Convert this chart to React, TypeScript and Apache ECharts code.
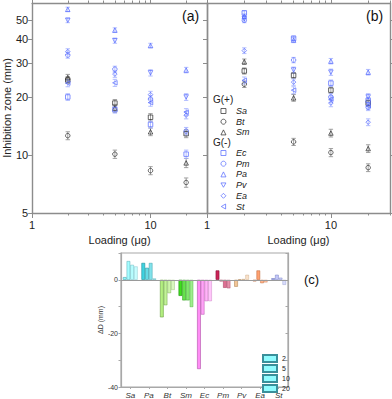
import React, { useEffect, useRef } from 'react';
import * as echarts from 'echarts';

// ---------- data ----------
const LOADINGS = [2, 5, 10, 20];
const X_MINOR = [2, 3, 4, 5, 6, 7, 8, 9, 20, 30];
const X_MAJOR = [1, 10];
const Y_TICKS = [5, 10, 20, 30, 40, 50];
const SPECIES = ['Sa', 'Bt', 'Sm', 'Ec', 'Pm', 'Pa', 'Pv', 'Ea', 'St'];

// Panel (a) inhibition zone (mm)
const A_Sa = [24.5, 18.6, 15.7, 12.9];
const A_Bt = [12.6, 10.1, 8.3, 7.2];
const A_Sm = [25.2, 17.5, 13.2, 9.1];
const A_Ec = [20.0, 17.2, 14.4, 10.1];
const A_Pm = [33.0, 27.9, 19.5, 13.3];
const A_Pa = [57.0, 44.5, 37.0, 27.6];
const A_Pv = [50.0, 39.2, 26.7, 20.0];
const A_Ea = [34.4, 26.3, 20.6, 16.1];
const A_St = [23.6, 23.7, 18.7, 16.7];
// Panel (a) error
const AE_Sa = [1.0, 0.8, 0.7, 0.6];
const AE_Bt = [0.6, 0.5, 0.4, 0.4];
const AE_Sm = [1.0, 0.8, 0.6, 0.5];
const AE_Ec = [0.8, 0.7, 0.6, 0.5];
const AE_Pm = [1.2, 1.0, 0.8, 0.6];
const AE_Pa = [1.5, 1.2, 1.0, 0.9];
const AE_Pv = [1.4, 1.2, 1.0, 0.8];
const AE_Ea = [1.2, 1.0, 0.8, 0.7];
const AE_St = [1.0, 1.0, 0.8, 0.7];

// Panel (b) inhibition zone (mm)
const B_Sa = [27.3, 25.9, 21.7, 18.6];
const B_Bt = [23.3, 11.7, 10.3, 8.6];
const B_Sm = [30.5, 19.8, 13.0, 10.8];
const B_Ec = [54.6, 40.3, 23.6, 19.2];
const B_Pm = [50.0, 31.1, 20.0, 17.7];
const B_Pa = [52.5, 39.5, 30.7, 26.9];
const B_Pv = [51.0, 27.6, 26.9, 20.0];
const B_Ea = [34.8, 23.9, 18.6, 14.8];
const B_St = [24.4, 21.7, 19.5, 18.0];
// Panel (b) error
const BE_Sa = [1.0, 0.9, 0.8, 0.7];
const BE_Bt = [0.9, 0.5, 0.5, 0.4];
const BE_Sm = [1.0, 0.8, 0.6, 0.5];
const BE_Ec = [1.5, 1.2, 0.9, 0.7];
const BE_Pm = [1.4, 1.0, 0.8, 0.7];
const BE_Pa = [1.5, 1.2, 1.0, 0.9];
const BE_Pv = [1.5, 1.0, 1.0, 0.8];
const BE_Ea = [1.2, 0.9, 0.8, 0.6];
const BE_St = [1.0, 0.9, 0.8, 0.7];

// Panel (c) ΔD (mm)
const CATS = ['Sa', 'Pa', 'Bt', 'Sm', 'Ec', 'Pm', 'Pv', 'Ea', 'St'];
const D_2 = [1.0, 6.3, -14.0, -6.0, -33.3, 3.5, -2.6, -0.6, 0.6];
const D_5 = [7.0, 4.5, -9.5, -7.7, -13.0, -0.6, 0.2, 3.5, 1.9];
const D_10 = [5.6, 6.3, -5.0, -7.7, -8.0, -3.0, 0.3, -1.3, 0.8];
const D_20 = [5.0, 0.5, -3.8, -10.2, -8.0, -3.2, 1.9, -1.0, -1.9];
const D_NAMES = ['2', '5', '10', '20'];

// ---------- styles ----------
const FONT = '"Liberation Sans", Arial, sans-serif';
const FRAME = '#8c8c8c';
const BLK = '#2a2a2a';
const BLU = '#5468ff';
const BLK_ERR = '#8a8a8a';
const BLU_ERR = '#9fadff';
const TRI_DOWN = 'path://M0,0 L10,0 L5,8.66 Z';
const TRI_LEFT = 'path://M0,5 L8.66,0 L8.66,10 Z';
const STYLE: Record<string, { symbol: string; rotate: number; color: string; err: string; icon?: string }> = {
  Sa: { symbol: 'rect', rotate: 0, color: BLK, err: BLK_ERR },
  Bt: { symbol: 'circle', rotate: 0, color: BLK, err: BLK_ERR },
  Sm: { symbol: 'triangle', rotate: 0, color: BLK, err: BLK_ERR },
  Ec: { symbol: 'rect', rotate: 0, color: BLU, err: BLU_ERR },
  Pm: { symbol: 'circle', rotate: 0, color: BLU, err: BLU_ERR },
  Pa: { symbol: 'triangle', rotate: 0, color: BLU, err: BLU_ERR },
  Pv: { symbol: 'triangle', rotate: 180, color: BLU, err: BLU_ERR, icon: TRI_DOWN },
  Ea: { symbol: 'diamond', rotate: 0, color: BLU, err: BLU_ERR },
  St: { symbol: 'triangle', rotate: 90, color: BLU, err: BLU_ERR, icon: TRI_LEFT },
};
const CAT_COLORS = ['#8ffcff', '#3fd3e0', '#b3ef80', '#3fdc1e', '#ff8cf5', '#cc2458', '#f3c596', '#ff8a4c', '#b4baf8'];
const CAT_BORDERS = ['#4fa6b0', '#1d8e99', '#6aa040', '#1f8f0d', '#b04fa8', '#8a1038', '#b48a5c', '#b85a28', '#7078c0'];
const LOAD_OPACITY = [1, 0.8, 0.65, 0.5];

const lg = (v: number) => Math.log10(v);
const Y_MIN = lg(5);
const Y_MAX = lg(61.5);
const X_MAX = lg(30);

function makeErr(color: string) {
  return (params: any, api: any) => {
    const x = api.value(0);
    const p1 = api.coord([x, api.value(1)]);
    const p2 = api.coord([x, api.value(2)]);
    const w = 2.2;
    const st = { stroke: color, lineWidth: 0.8 };
    return {
      type: 'group',
      children: [
        { type: 'line', shape: { x1: p1[0], y1: p1[1], x2: p2[0], y2: p2[1] }, style: st },
        { type: 'line', shape: { x1: p1[0] - w, y1: p1[1], x2: p1[0] + w, y2: p1[1] }, style: st },
        { type: 'line', shape: { x1: p2[0] - w, y1: p2[1], x2: p2[0] + w, y2: p2[1] }, style: st },
      ],
    };
  };
}

function panelSeries(g: number, vals: number[][], errs: number[][]) {
  const out: any[] = [];
  SPECIES.forEach((sp, k) => {
    const st = STYLE[sp];
    out.push({
      type: 'custom',
      name: `err${g}_${sp}`,
      xAxisIndex: 4 * g,
      yAxisIndex: 2 * g,
      renderItem: makeErr(st.err),
      encode: { x: 0, y: [1, 2] },
      data: LOADINGS.map((x, i) => [lg(x), lg(vals[k][i] - errs[k][i]), lg(vals[k][i] + errs[k][i])]),
      z: 2,
      silent: true,
    });
  });
  SPECIES.forEach((sp, k) => {
    const st = STYLE[sp];
    out.push({
      type: 'scatter',
      name: sp,
      xAxisIndex: 4 * g,
      yAxisIndex: 2 * g,
      data: LOADINGS.map((x, i) => [lg(x), lg(vals[k][i])]),
      symbol: st.symbol,
      symbolSize: 4.5,
      symbolRotate: st.rotate,
      itemStyle: { color: 'rgba(255,255,255,0)', borderColor: st.color, borderWidth: 0.9 },
      z: 3,
    });
  });
  return out;
}

function panelAxes(g: number) {
  const lineStyle = { color: FRAME, width: 1.4 };
  const xs = [
    {
      gridIndex: g, type: 'value', min: 0, max: X_MAX, position: 'bottom',
      axisLine: { show: true, onZero: false, lineStyle },
      axisTick: { show: true, customValues: X_MAJOR.map(lg), length: 5, lineStyle: { color: FRAME } },
      axisLabel: { show: true, customValues: X_MAJOR.map(lg), formatter: (v: number) => String(Math.round(Math.pow(10, v))), fontSize: 11, color: '#222', fontFamily: FONT, margin: 6 },
      splitLine: { show: false },
      name: 'Loading (μg)', nameLocation: 'middle', nameGap: 21,
      nameTextStyle: { fontSize: 11, color: '#222', fontFamily: FONT },
    },
    {
      gridIndex: g, type: 'value', min: 0, max: X_MAX, position: 'bottom',
      axisLine: { show: false, onZero: false },
      axisTick: { show: true, customValues: X_MINOR.map(lg), length: 2.5, lineStyle: { color: FRAME } },
      axisLabel: { show: false }, splitLine: { show: false },
    },
    {
      gridIndex: g, type: 'value', min: 0, max: X_MAX, position: 'top',
      axisLine: { show: true, onZero: false, lineStyle },
      axisTick: { show: true, customValues: X_MAJOR.map(lg), length: 5, lineStyle: { color: FRAME } },
      axisLabel: { show: false }, splitLine: { show: false },
    },
    {
      gridIndex: g, type: 'value', min: 0, max: X_MAX, position: 'top',
      axisLine: { show: false, onZero: false },
      axisTick: { show: true, customValues: X_MINOR.map(lg), length: 2.5, lineStyle: { color: FRAME } },
      axisLabel: { show: false }, splitLine: { show: false },
    },
  ];
  const ys = [
    {
      gridIndex: g, type: 'value', min: Y_MIN, max: Y_MAX, position: 'left',
      axisLine: { show: true, onZero: false, lineStyle },
      axisTick: { show: true, customValues: Y_TICKS.map(lg), length: 4, lineStyle: { color: FRAME } },
      axisLabel: g === 0
        ? { show: true, customValues: Y_TICKS.map(lg), formatter: (v: number) => String(Math.round(Math.pow(10, v))), fontSize: 11, color: '#222', fontFamily: FONT, margin: 4 }
        : { show: false },
      splitLine: { show: false },
      name: g === 0 ? 'Inhibition zone (mm)' : '', nameLocation: 'middle', nameGap: 17,
      nameTextStyle: { fontSize: 11, color: '#222', fontFamily: FONT },
    },
    {
      gridIndex: g, type: 'value', min: Y_MIN, max: Y_MAX, position: 'right',
      axisLine: { show: true, onZero: false, lineStyle },
      axisTick: { show: g === 1, customValues: Y_TICKS.map(lg), length: 4, lineStyle: { color: FRAME } },
      axisLabel: { show: false }, splitLine: { show: false },
    },
  ];
  return { xs, ys };
}

export default function App() {
  const ref = useRef<HTMLDivElement>(null);
  useEffect(() => {
    if (!ref.current) return;
    const chart = echarts.init(ref.current, null, { renderer: 'svg' });
    const a = panelAxes(0);
    const b = panelAxes(1);
    const aVals = [A_Sa, A_Bt, A_Sm, A_Ec, A_Pm, A_Pa, A_Pv, A_Ea, A_St];
    const aErrs = [AE_Sa, AE_Bt, AE_Sm, AE_Ec, AE_Pm, AE_Pa, AE_Pv, AE_Ea, AE_St];
    const bVals = [B_Sa, B_Bt, B_Sm, B_Ec, B_Pm, B_Pa, B_Pv, B_Ea, B_St];
    const bErrs = [BE_Sa, BE_Bt, BE_Sm, BE_Ec, BE_Pm, BE_Pa, BE_Pv, BE_Ea, BE_St];
    const D_ALL = [D_2, D_5, D_10, D_20];

    const barSeries = D_ALL.map((arr, j) => ({
      type: 'bar',
      name: D_NAMES[j],
      xAxisIndex: 8,
      yAxisIndex: 4,
      barWidth: 3.7,
      barGap: '0%',
      itemStyle: { color: '#8ffcff', borderColor: '#3a8f9a', borderWidth: 0.7 },
      data: arr.map((v, i) => ({
        value: v,
        itemStyle: { color: CAT_COLORS[i], opacity: LOAD_OPACITY[j], borderColor: CAT_BORDERS[i], borderWidth: 0.6 },
      })),
      markLine: j === 0 ? {
        silent: true, symbol: 'none', label: { show: false },
        lineStyle: { color: '#9a9a9a', width: 1, type: 'solid' },
        data: [{ yAxis: 0 }],
      } : undefined,
      z: 2,
    }));

    const legendText = { fontSize: 9, fontStyle: 'italic', color: '#222', fontFamily: FONT, lineHeight: 10, padding: [0, 0, 0, 5] };
    const legendItem = (sp: string) => (STYLE[sp].icon ? { name: sp, icon: STYLE[sp].icon } : { name: sp });
    const legendItemStyle = { color: 'rgba(255,255,255,0)', borderWidth: 0.9 };
    const option: any = {
      animation: false,
      textStyle: { fontFamily: FONT },
      grid: [
        { left: 29, top: 3, width: 178, height: 210 },
        { left: 207, top: 3, width: 183, height: 210 },
        { left: 121, top: 253, width: 167, height: 134, show: true, borderColor: '#a8a8a8', borderWidth: 1.2, backgroundColor: 'transparent' },
      ],
      xAxis: [
        ...a.xs, ...b.xs,
        {
          gridIndex: 2, type: 'category', data: CATS, position: 'bottom',
          axisLine: { show: true, onZero: false, lineStyle: { color: '#a8a8a8', width: 1.2 } },
          axisTick: { show: true, alignWithLabel: true, length: 2, lineStyle: { color: '#a8a8a8' } },
          axisLabel: { fontSize: 8, fontStyle: 'italic', color: '#333', fontFamily: FONT, margin: 4 },
        },
      ],
      yAxis: [
        ...a.ys, ...b.ys,
        {
          gridIndex: 2, type: 'value', min: -40, max: 10, interval: 10, position: 'left',
          axisLine: { show: true, lineStyle: { color: '#a8a8a8', width: 1.2 } },
          axisTick: { show: true, length: 2.5, lineStyle: { color: '#a8a8a8' } },
          axisLabel: { fontSize: 7, color: '#333', fontFamily: FONT, margin: 3,
            formatter: (v: number) => (v <= 0 && v % 20 === 0 ? String(v) : '') },
          splitLine: { show: false },
          name: 'ΔD (mm)', nameLocation: 'middle', nameGap: 15,
          nameTextStyle: { fontSize: 7, color: '#333', fontFamily: FONT },
        },
        {
          gridIndex: 2, type: 'value', min: -40, max: 10, interval: 10, position: 'right',
          axisLine: { show: true, lineStyle: { color: '#a8a8a8', width: 1.2 } },
          axisTick: { show: true, inside: true, length: 2.5, lineStyle: { color: '#a8a8a8' } },
          axisLabel: { show: false }, splitLine: { show: false },
        },
      ],
      legend: [
        {
          left: 220.5, top: 106, orient: 'vertical', selectedMode: false, padding: 0,
          data: ['Sa', 'Bt', 'Sm'].map(legendItem), itemWidth: 5, itemHeight: 5, itemGap: 0.7,
          itemStyle: legendItemStyle,
          textStyle: legendText,
        },
        {
          left: 220.5, top: 148, orient: 'vertical', selectedMode: false, padding: 0,
          data: ['Ec', 'Pm', 'Pa', 'Pv', 'Ea', 'St'].map(legendItem), itemWidth: 5, itemHeight: 5, itemGap: 0.7,
          itemStyle: legendItemStyle,
          textStyle: legendText,
        },
        {
          left: 262, top: 354, orient: 'vertical', selectedMode: false, padding: 0,
          icon: 'rect',
          data: D_NAMES, itemWidth: 14, itemHeight: 7, itemGap: 1,
          textStyle: { fontSize: 7, color: '#222', fontFamily: FONT, lineHeight: 7 },
        },
      ],
      graphic: [
        { type: 'text', left: 182, top: 9, style: { text: '(a)', fill: '#111', font: `14px ${FONT}` } },
        { type: 'text', left: 366, top: 9, style: { text: '(b)', fill: '#111', font: `14px ${FONT}` } },
        { type: 'text', left: 304, top: 273, style: { text: '(c)', fill: '#111', font: `13px ${FONT}` } },
        { type: 'text', left: 213, top: 94, style: { text: 'G(+)', fill: '#222', font: `10px ${FONT}` } },
        { type: 'text', left: 213, top: 137, style: { text: 'G(-)', fill: '#222', font: `10px ${FONT}` } },
      ],
      series: [
        ...panelSeries(0, aVals, aErrs),
        ...panelSeries(1, bVals, bErrs),
        ...barSeries,
      ],
    };
    chart.setOption(option);
    return () => chart.dispose();
  }, []);
  return (
    <div
      ref={ref}
      style={{ position: 'fixed', left: 0, top: 0, width: 392, height: 399, background: '#fff' }}
    />
  );
}
